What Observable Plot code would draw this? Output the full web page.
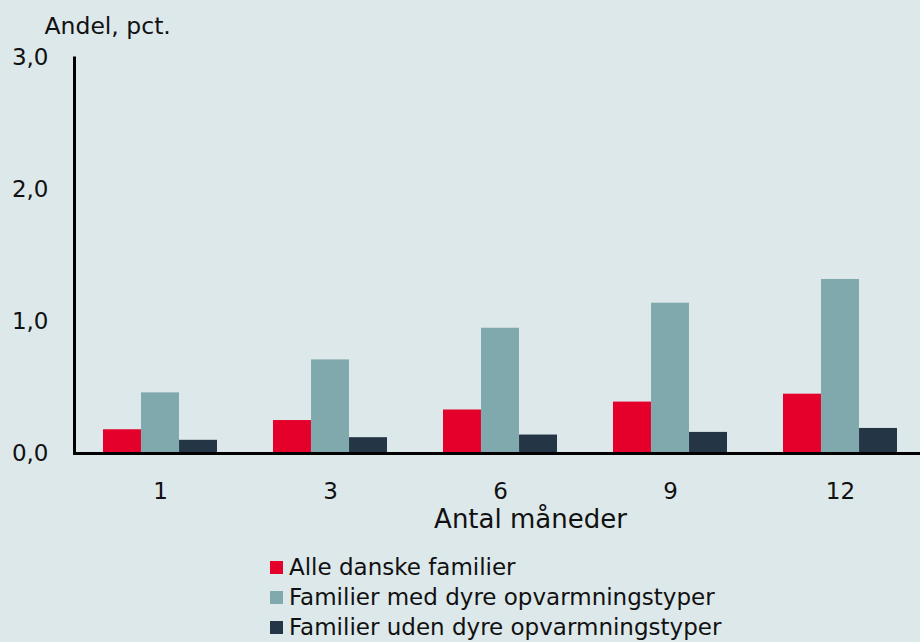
<!DOCTYPE html>
<html>
<head>
<meta charset="utf-8">
<script src="https://cdn.jsdelivr.net/npm/d3@7"></script>
<script src="https://cdn.jsdelivr.net/npm/@observablehq/plot@0.6"></script>
<style>
  html, body { margin: 0; padding: 0; background: #dde8ea; }
  #wrap { position: relative; width: 920px; height: 642px; overflow: hidden; font-family: "DejaVu Sans", sans-serif; color: #111; }
  #legend { position: absolute; left: 270px; top: 552px; font-size: 23px; }
  #legend .row { display: flex; align-items: center; height: 30px; white-space: nowrap; }
  #legend .sw { width: 13px; height: 13px; margin-right: 6px; flex: none; }
</style>
</head>
<body>
<div id="wrap"></div>
<script>
const groups = ["1", "3", "6", "9", "12"];
const series = ["Alle danske familier", "Familier med dyre opvarmningstyper", "Familier uden dyre opvarmningstyper"];
const alle = [0.18, 0.25, 0.33, 0.39, 0.45];
const medDyre = [0.46, 0.71, 0.95, 1.14, 1.32];
const udenDyre = [0.10, 0.12, 0.14, 0.16, 0.19];
const colors = ["#e4002b", "#80a9ae", "#243545"];
const yTicks = [0, 1, 2, 3];

const valuesBySeries = [alle, medDyre, udenDyre];
const data = series.flatMap((s, k) => groups.map((g, i) => ({group: g, series: s, value: valuesBySeries[k][i]})));

const xRange = [74, 926.5];
const padInner = 0.331;
const padOuter = padInner / 2;
const step = (xRange[1] - xRange[0]) / (groups.length - padInner + 2 * padOuter);
const bw = step * (1 - padInner);
const sub = bw / series.length;

const fmt = d => d.toFixed(1).replace(".", ",");

const barMarks = series.map((s, k) =>
  Plot.barY(data.filter(d => d.series === s), {
    x: "group", y: "value", fill: colors[k],
    insetLeft: sub * k, insetRight: sub * (series.length - 1 - k)
  })
);

const chart = Plot.plot({
  width: 920,
  height: 545,
  marginLeft: 74,
  marginRight: 0,
  marginTop: 57.5,
  marginBottom: 92,
  style: {background: "transparent", fontFamily: "DejaVu Sans, sans-serif", color: "#111"},
  x: {domain: groups, range: xRange, paddingInner: padInner, paddingOuter: padOuter, label: null},
  y: {domain: [0, 3], label: null},
  marks: [
    ...barMarks,
    Plot.axisY(yTicks, {tickSize: 0, tickPadding: 26, tickFormat: fmt, fontSize: 23, label: null}),
    Plot.axisX({tickSize: 0, tickPadding: 29, fontSize: 23, label: null}),
    Plot.ruleY([0], {stroke: "#000", strokeWidth: 3}),
    Plot.frame({anchor: "left", stroke: "#000", strokeWidth: 3}),
    Plot.text(["Andel, pct."], {frameAnchor: "top-left", dx: -30, dy: -32, textAnchor: "start", fontSize: 23.5, lineAnchor: "middle"}),
    Plot.text(["Antal måneder"], {frameAnchor: "bottom", dx: 33, dy: 74, fontSize: 26, lineAnchor: "bottom"})
  ]
});

const wrap = document.getElementById("wrap");
wrap.appendChild(chart);

const legend = document.createElement("div");
legend.id = "legend";
series.forEach((s, k) => {
  const row = document.createElement("div");
  row.className = "row";
  const sw = document.createElement("span");
  sw.className = "sw";
  sw.style.background = colors[k];
  const t = document.createElement("span");
  t.textContent = s;
  row.appendChild(sw);
  row.appendChild(t);
  legend.appendChild(row);
});
wrap.appendChild(legend);
</script>
</body>
</html>
